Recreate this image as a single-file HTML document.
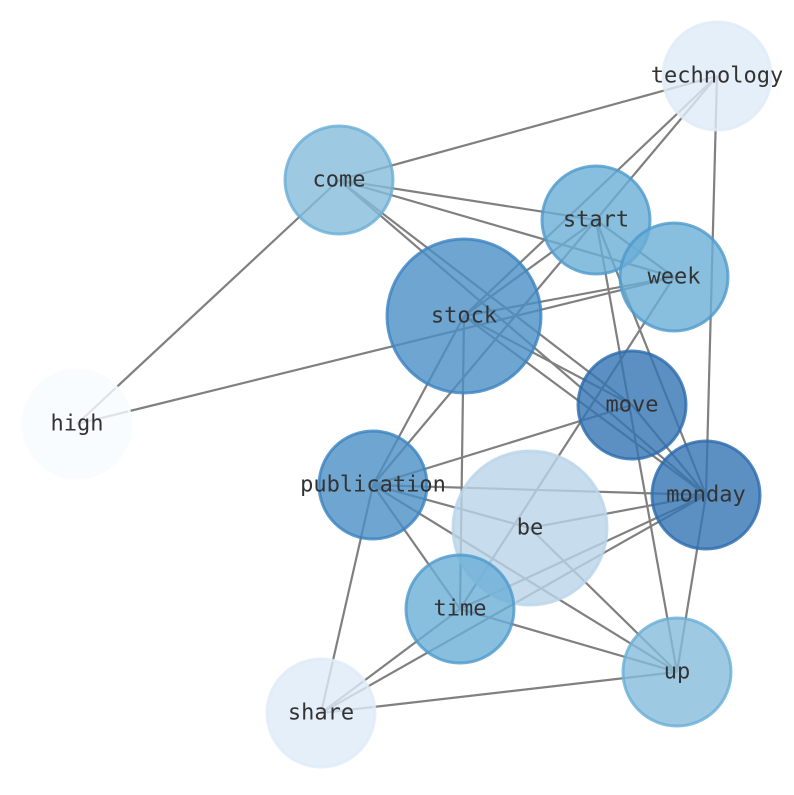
<!DOCTYPE html>
<html><head><meta charset="utf-8"><style>html,body{margin:0;padding:0;background:#fff}</style></head><body>
<svg width="794" height="790" viewBox="0 0 794 790" xmlns="http://www.w3.org/2000/svg">
<g stroke="#808080" stroke-width="2.2" fill="none">
<line x1="339" y1="180" x2="717" y2="76"/>
<line x1="339" y1="180" x2="596" y2="220"/>
<line x1="339" y1="180" x2="674" y2="277"/>
<line x1="339" y1="180" x2="632" y2="405"/>
<line x1="339" y1="180" x2="706" y2="495"/>
<line x1="339" y1="180" x2="77" y2="424"/>
<line x1="77" y1="424" x2="674" y2="277"/>
<line x1="464" y1="316" x2="717" y2="76"/>
<line x1="464" y1="316" x2="596" y2="220"/>
<line x1="464" y1="316" x2="674" y2="277"/>
<line x1="464" y1="316" x2="632" y2="405"/>
<line x1="464" y1="316" x2="706" y2="495"/>
<line x1="464" y1="316" x2="373" y2="485"/>
<line x1="464" y1="316" x2="460" y2="609"/>
<line x1="373" y1="485" x2="717" y2="76"/>
<line x1="596" y1="220" x2="674" y2="277"/>
<line x1="596" y1="220" x2="706" y2="495"/>
<line x1="596" y1="220" x2="677" y2="672"/>
<line x1="717" y1="76" x2="706" y2="495"/>
<line x1="674" y1="277" x2="460" y2="609"/>
<line x1="632" y1="405" x2="373" y2="485"/>
<line x1="632" y1="405" x2="706" y2="495"/>
<line x1="373" y1="485" x2="706" y2="495"/>
<line x1="373" y1="485" x2="530" y2="528"/>
<line x1="373" y1="485" x2="677" y2="672"/>
<line x1="373" y1="485" x2="460" y2="609"/>
<line x1="373" y1="485" x2="321" y2="713"/>
<line x1="530" y1="528" x2="706" y2="495"/>
<line x1="530" y1="528" x2="677" y2="672"/>
<line x1="460" y1="609" x2="706" y2="495"/>
<line x1="460" y1="609" x2="677" y2="672"/>
<line x1="460" y1="609" x2="321" y2="713"/>
<line x1="321" y1="713" x2="706" y2="495"/>
<line x1="321" y1="713" x2="677" y2="672"/>
<line x1="706" y1="495" x2="677" y2="672"/>
</g>
<g stroke-width="3" fill-opacity="0.8" stroke-opacity="0.8">
<circle cx="717" cy="76" r="54" fill="#deebf7" stroke="#deebf7"/>
<circle cx="339" cy="180" r="54" fill="#85bcdc" stroke="#6aaed6"/>
<circle cx="596" cy="220" r="54" fill="#6aaed6" stroke="#4d9acc"/>
<circle cx="674" cy="277" r="54" fill="#6aaed6" stroke="#4d9acc"/>
<circle cx="464" cy="316" r="77" fill="#4a8ec5" stroke="#3b82c0"/>
<circle cx="77" cy="424" r="54" fill="#f7fbff" stroke="#f7fbff"/>
<circle cx="632" cy="405" r="54" fill="#3474b3" stroke="#2a6aad"/>
<circle cx="373" cy="485" r="54" fill="#4a8ec5" stroke="#3b82c0"/>
<circle cx="706" cy="495" r="54" fill="#3474b3" stroke="#2a6aad"/>
<circle cx="530" cy="528" r="77" fill="#b9d4ea" stroke="#b9d4ea"/>
<circle cx="460" cy="609" r="54" fill="#6aaed6" stroke="#4d9acc"/>
<circle cx="677" cy="672" r="54" fill="#85bcdc" stroke="#6aaed6"/>
<circle cx="321" cy="713" r="54" fill="#deebf7" stroke="#deebf7"/>
</g>
<g font-family="'DejaVu Sans Mono','Liberation Mono',monospace" font-size="22" fill="#333" text-anchor="middle" dominant-baseline="central">
<text x="717" y="76">technology</text>
<text x="339" y="180">come</text>
<text x="596" y="220">start</text>
<text x="674" y="277">week</text>
<text x="464" y="316">stock</text>
<text x="77" y="424">high</text>
<text x="632" y="405">move</text>
<text x="373" y="485">publication</text>
<text x="706" y="495">monday</text>
<text x="530" y="528">be</text>
<text x="460" y="609">time</text>
<text x="677" y="672">up</text>
<text x="321" y="713">share</text>
</g>
</svg>
</body></html>
